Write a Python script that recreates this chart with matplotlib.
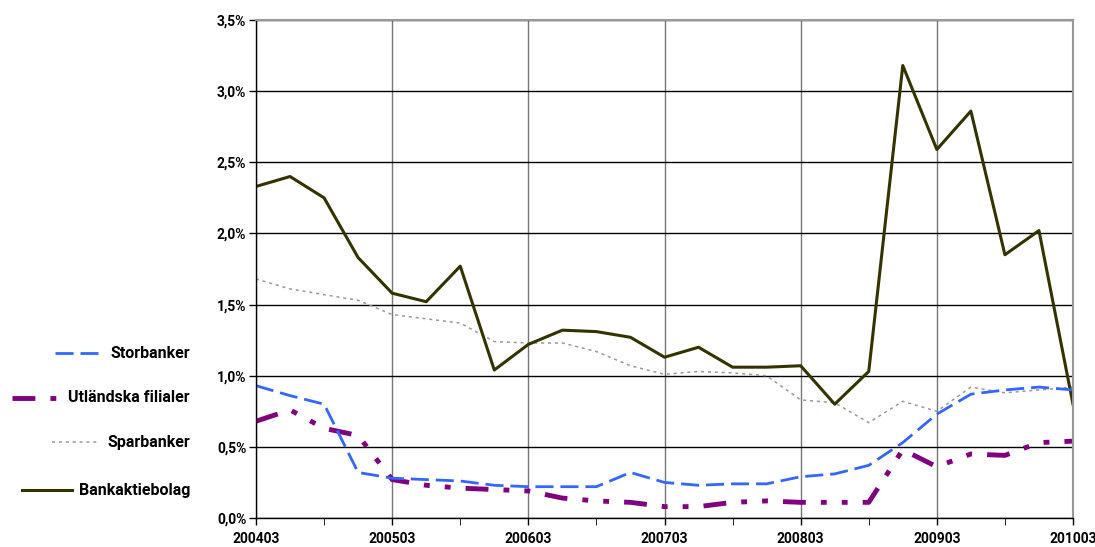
import numpy as np
import matplotlib.pyplot as plt
from matplotlib.lines import Line2D
from matplotlib.ticker import FuncFormatter, MultipleLocator

# quarterly data 200403 - 201003, in percent
quarters = ["200403", "200406", "200409", "200412",
            "200503", "200506", "200509", "200512",
            "200603", "200606", "200609", "200612",
            "200703", "200706", "200709", "200712",
            "200803", "200806", "200809", "200812",
            "200903", "200906", "200909", "200912",
            "201003"]

storbanker = [0.93, 0.86, 0.80, 0.32, 0.28, 0.27, 0.26, 0.23, 0.22, 0.22, 0.22, 0.32, 0.25,
              0.23, 0.24, 0.24, 0.29, 0.31, 0.37, 0.53, 0.73, 0.87, 0.90, 0.92, 0.90]
utlandska = [0.68, 0.76, 0.63, 0.58, 0.27, 0.23, 0.21, 0.20, 0.19, 0.14, 0.12, 0.11, 0.08,
             0.08, 0.11, 0.12, 0.11, 0.11, 0.11, 0.48, 0.36, 0.45, 0.44, 0.53, 0.54]
sparbanker = [1.68, 1.61, 1.57, 1.53, 1.43, 1.40, 1.37, 1.24, 1.23, 1.23, 1.17, 1.07, 1.01,
              1.03, 1.02, 1.00, 0.83, 0.81, 0.67, 0.82, 0.75, 0.92, 0.88, 0.90, 0.92]
bankaktiebolag = [2.33, 2.40, 2.25, 1.83, 1.58, 1.52, 1.77, 1.04, 1.22, 1.32, 1.31, 1.27, 1.13,
                  1.20, 1.06, 1.06, 1.07, 0.80, 1.03, 3.18, 2.59, 2.86, 1.85, 2.02, 0.80]

plt.rcParams['font.family'] = ['Roboto', 'DejaVu Sans']
plt.rcParams['font.weight'] = 'bold'

fig = plt.figure(figsize=(10.95, 5.47), dpi=100)
ax = fig.add_axes([256/1095, 1 - 518/547, (1073 - 256)/1095, (518 - 20)/547])

x = np.arange(len(quarters))

c_stor = "#3366ff"
c_utl = "#800080"
c_spar = "#999999"
c_bank = "#333300"

# line styles: blue dashed, purple long-short-short, grey dotted
ls_stor = (0, (6.5, 2.5))
ls_utl = (0, (4.7, 3.1, 1.2, 3.1, 1.2, 3.1))
ls_spar = (0, (2, 2.5))

ax.plot(x, sparbanker, color=c_spar, lw=1.1, ls=ls_spar)
ax.plot(x, bankaktiebolag, color=c_bank, lw=2.2)
ax.plot(x, utlandska, color=c_utl, lw=3.5, ls=ls_utl)
ax.plot(x, storbanker, color=c_stor, lw=2, ls=ls_stor)

ax.set_xlim(0, len(quarters) - 1)
ax.set_ylim(0, 3.5)
ax.set_xticks(x[::4])
ax.set_xticklabels(quarters[::4])
ax.set_xticks(x[2::4], minor=True)
ax.yaxis.set_major_locator(MultipleLocator(0.5))
ax.yaxis.set_major_formatter(FuncFormatter(lambda v, p: f"{v:.1f}%".replace(".", ",")))

ax.tick_params(axis='both', labelsize=10, length=5, width=1, color="black", pad=2)
ax.tick_params(axis='x', which='minor', length=5)
ax.tick_params(axis='x', pad=5)
for lab in ax.get_xticklabels() + ax.get_yticklabels():
    lab.set_fontweight('bold')

ax.grid(axis='y', color="black", lw=1)
ax.grid(axis='x', color="#777777", lw=1)
ax.set_axisbelow(True)
for s in ['top', 'right']:
    ax.spines[s].set_color("#999999")
    ax.spines[s].set_linewidth(1.5)
for s in ['left', 'bottom']:
    ax.spines[s].set_color("black")
    ax.spines[s].set_linewidth(1)

# legend entries placed on the left of the plot
entries = [
    ("Storbanker", c_stor, 2, ls_stor, 55, 98, 353),
    ("Utländska filialer", c_utl, 3.5, (0, (4.7, 3.1, 1.2, 3.1)), 12, 57, 398),
    ("Sparbanker", c_spar, 1.1, ls_spar, 52, 98, 442),
    ("Bankaktiebolag", c_bank, 2.2, '-', 22, 72, 490),
]
for name, col, lw, ls, x0, x1, yp in entries:
    yf = 1 - yp / 547
    fig.add_artist(Line2D([x0/1095, x1/1095], [yf, yf], color=col, lw=lw, ls=ls,
                          transform=fig.transFigure))
    fig.text(190/1095, yf, name, ha='right', va='center', fontsize=11.5, fontweight='bold')

fig.savefig("out.png", dpi=100)
